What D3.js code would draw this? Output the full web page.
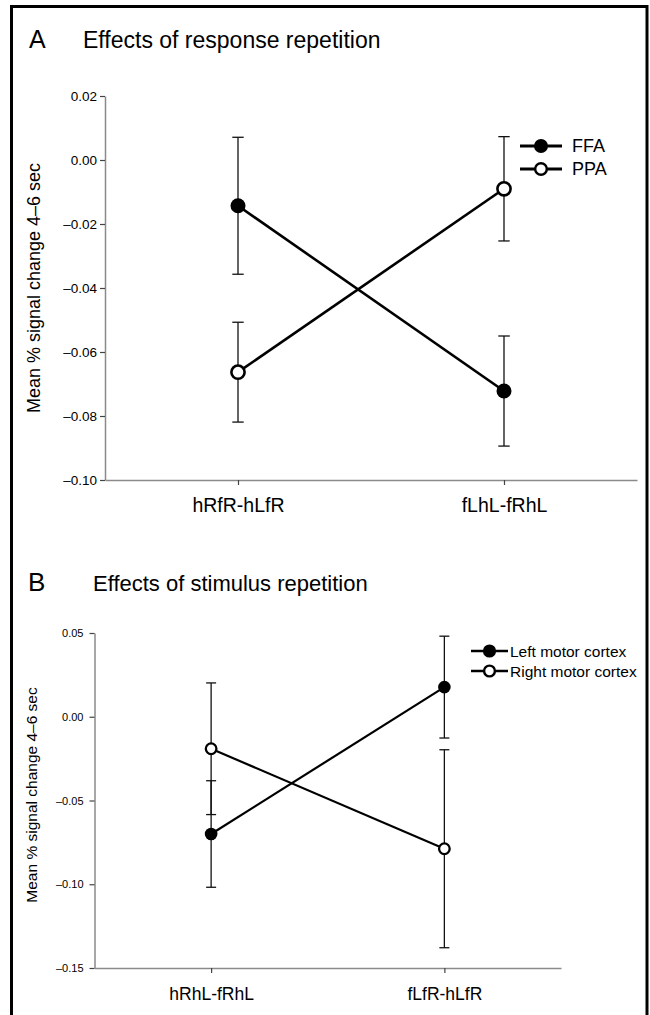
<!DOCTYPE html>
<html>
<head>
<meta charset="utf-8">
<script src="https://cdn.jsdelivr.net/npm/d3@7/dist/d3.min.js"></script>
<style>
  html, body { margin: 0; padding: 0; background: #fff; }
  svg { display: block; }
  text { font-family: "Liberation Sans", Arial, Helvetica, sans-serif; fill: #000; }
</style>
</head>
<body>
<svg id="chart" width="650" height="1015"></svg>
<script>
// ---------- Panel A data ----------
const categoriesA = ["hRfR-hLfR", "fLhL-fRhL"];
const seriesNamesA = ["FFA", "PPA"];
const ffaMean = [-0.0143, -0.0722];
const ffaErr  = [0.0214, 0.0172];
const ppaMean = [-0.0663, -0.0090];
const ppaErr  = [0.0156, 0.0163];
const ticksA  = [0.02, 0.00, -0.02, -0.04, -0.06, -0.08, -0.10];

// ---------- Panel B data ----------
const categoriesB = ["hRhL-fRhL", "fLfR-hLfR"];
const seriesNamesB = ["Left motor cortex", "Right motor cortex"];
const leftMean  = [-0.0700, 0.0177];
const leftErr   = [0.0318, 0.0304];
const rightMean = [-0.0191, -0.0788];
const rightErr  = [0.0393, 0.0591];
const ticksB    = [0.05, 0.00, -0.05, -0.10, -0.15];

const titleA = "Effects of response repetition";
const titleB = "Effects of stimulus repetition";
const yLabel = "Mean % signal change 4\u20136 sec";

const svg = d3.select("#chart");
const fmt = v => d3.format(".2f")(v).replace("\u2212", "\u2013").replace("-", "\u2013");

// outer frame
svg.append("rect")
  .attr("x", 11.5).attr("y", 6.5).attr("width", 635.5).attr("height", 1030)
  .attr("fill", "none").attr("stroke", "#000").attr("stroke-width", 3);

function panel(cfg) {
  const g = svg.append("g");
  const x = d3.scalePoint().domain(cfg.categories).range([cfg.x0, cfg.x1]).padding(0.5);
  const y = d3.scaleLinear().domain([cfg.ymin, cfg.ymax]).range([cfg.y0, cfg.y1]);

  // y axis
  const ya = g.append("g").attr("transform", `translate(${cfg.x0},0)`)
    .call(d3.axisLeft(y).tickValues(cfg.ticks).tickFormat(fmt).tickSize(5).tickSizeOuter(0).tickPadding(cfg.tickPad));
  ya.select(".domain").attr("stroke", "#8a8a8a").attr("stroke-width", 1.5);
  ya.selectAll(".tick line").attr("stroke", "#444").attr("stroke-width", 1.2);
  ya.selectAll(".tick text").style("font-size", cfg.tickFont + "px")
    .style("font-family", '"Liberation Sans", Arial, sans-serif').attr("fill", "#000");

  // x axis
  const xa = g.append("g").attr("transform", `translate(0,${cfg.y0})`)
    .call(d3.axisBottom(x).tickSize(5).tickSizeOuter(0).tickPadding(cfg.xPad));
  xa.select(".domain").attr("stroke", "#8a8a8a").attr("stroke-width", 1.5);
  xa.selectAll(".tick line").attr("stroke", "#444").attr("stroke-width", 1.2);
  xa.selectAll(".tick text").style("font-size", cfg.xFont + "px")
    .style("font-family", '"Liberation Sans", Arial, sans-serif').attr("fill", "#000");

  // y label
  g.append("text")
    .attr("transform", `translate(${cfg.ylabX},${cfg.ylabY}) rotate(-90)`)
    .attr("text-anchor", "middle")
    .style("font-size", cfg.ylabFont + "px")
    .text(yLabel);

  // titles
  g.append("text").attr("x", cfg.letterX).attr("y", cfg.titleY)
    .style("font-size", cfg.letterFont + "px").text(cfg.letter);
  g.append("text").attr("x", cfg.titleX).attr("y", cfg.titleY)
    .style("font-size", cfg.titleFont + "px").text(cfg.title);

  // series
  cfg.series.forEach(s => {
    const pts = cfg.categories.map((c, i) => ({ c, m: s.mean[i], e: s.err[i] }));
    const eb = g.append("g").attr("stroke", "#111").attr("stroke-width", 1.3);
    pts.forEach(p => {
      const cx = x(p.c);
      eb.append("line").attr("x1", cx).attr("x2", cx).attr("y1", y(p.m + p.e)).attr("y2", y(p.m - p.e));
      [p.m + p.e, p.m - p.e].forEach(v => {
        eb.append("line").attr("x1", cx - cfg.cap).attr("x2", cx + cfg.cap).attr("y1", y(v)).attr("y2", y(v));
      });
    });
  });
  cfg.series.forEach(s => {
    const pts = cfg.categories.map((c, i) => ({ c, m: s.mean[i] }));
    g.append("path").datum(pts)
      .attr("fill", "none").attr("stroke", "#000").attr("stroke-width", cfg.lineW)
      .attr("d", d3.line().x(d => x(d.c)).y(d => y(d.m)));
  });
  cfg.series.forEach(s => {
    const pts = cfg.categories.map((c, i) => ({ c, m: s.mean[i] }));
    g.selectAll(null).data(pts).join("circle")
      .attr("cx", d => x(d.c)).attr("cy", d => y(d.m))
      .attr("r", s.filled ? cfg.rFill : cfg.rOpen)
      .attr("fill", s.filled ? "#000" : "#fff")
      .attr("stroke", "#000").attr("stroke-width", s.filled ? 0 : cfg.openW);
  });

  // legend
  cfg.series.forEach((s, i) => {
    const ly = cfg.legY + i * cfg.legDy;
    g.append("line").attr("x1", cfg.legX0).attr("x2", cfg.legX1).attr("y1", ly).attr("y2", ly)
      .attr("stroke", "#000").attr("stroke-width", cfg.legLineW);
    g.append("circle").attr("cx", (cfg.legX0 + cfg.legX1) / 2).attr("cy", ly)
      .attr("r", s.filled ? cfg.legR : cfg.legR - 1.2)
      .attr("fill", s.filled ? "#000" : "#fff").attr("stroke", "#000")
      .attr("stroke-width", s.filled ? 0 : 2.4);
    g.append("text").attr("x", cfg.legTextX).attr("y", ly + cfg.legFont * 0.36)
      .style("font-size", cfg.legFont + "px").text(s.name);
  });
}

panel({
  categories: categoriesA, x0: 105, x1: 637, ymin: -0.10, ymax: 0.02, y0: 480, y1: 96,
  ticks: ticksA, tickFont: 13.5, tickPad: 3, xFont: 19.5, xPad: 13,
  ylabX: 40, ylabY: 288, ylabFont: 18,
  letter: "A", letterX: 29, letterFont: 25, title: titleA, titleX: 83, titleY: 48, titleFont: 23,
  series: [
    { name: seriesNamesA[0], mean: ffaMean, err: ffaErr, filled: true },
    { name: seriesNamesA[1], mean: ppaMean, err: ppaErr, filled: false }
  ],
  cap: 5.7, lineW: 2.6, rFill: 7.5, rOpen: 6.6, openW: 2.6,
  legX0: 520, legX1: 562, legY: 146, legDy: 23, legLineW: 3, legR: 7, legTextX: 572, legFont: 18
});

panel({
  categories: categoriesB, x0: 94.5, x1: 561, ymin: -0.15, ymax: 0.05, y0: 968, y1: 633,
  ticks: ticksB, tickFont: 11, tickPad: 6, xFont: 17.5, xPad: 15,
  ylabX: 37, ylabY: 795, ylabFont: 15.5,
  letter: "B", letterX: 28, letterFont: 26, title: titleB, titleX: 93, titleY: 591, titleFont: 22,
  series: [
    { name: seriesNamesB[0], mean: leftMean, err: leftErr, filled: true },
    { name: seriesNamesB[1], mean: rightMean, err: rightErr, filled: false }
  ],
  cap: 5, lineW: 2.2, rFill: 6.3, rOpen: 5.3, openW: 2.3,
  legX0: 471, legX1: 508, legY: 651, legDy: 20, legLineW: 2.6, legR: 6.6, legTextX: 510, legFont: 15.5
});
</script>
</body>
</html>
